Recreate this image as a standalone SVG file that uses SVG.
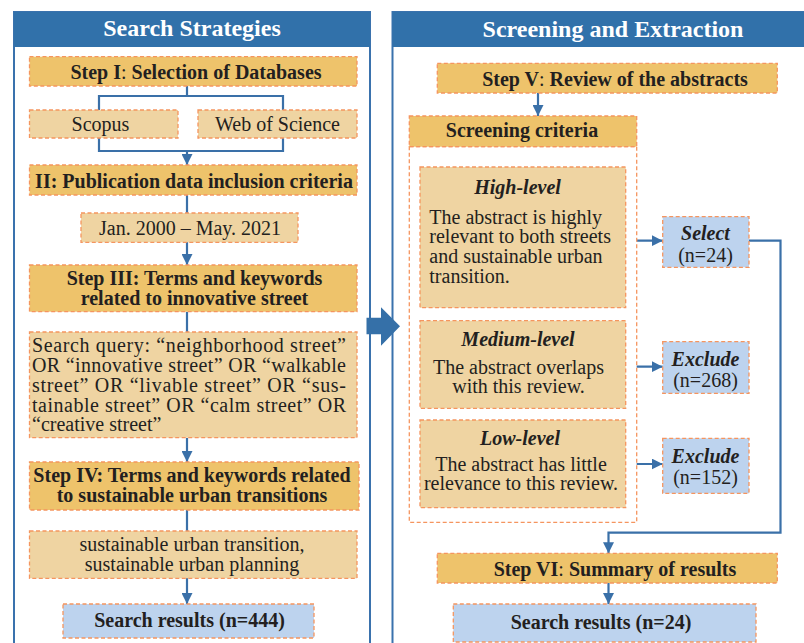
<svg xmlns="http://www.w3.org/2000/svg" width="804" height="643" viewBox="0 0 804 643" font-family="'Liberation Serif', Tinos, 'Times New Roman', 'DejaVu Serif', serif">
<style>
.panel{fill:#ffffff;stroke:#3A72AD;stroke-width:2}
.hdr{fill:#3171AA}
.title{font-size:24px;font-weight:bold;fill:#ffffff;text-anchor:middle}
.gold{fill:#EEC36B;stroke:#F5955F;stroke-width:1.3;stroke-dasharray:4 2.5}
.tan{fill:#EFD4A2;stroke:#F5955F;stroke-width:1.3;stroke-dasharray:4 2.5}
.blue{fill:#BDD3EE;stroke:#F5955F;stroke-width:1.3;stroke-dasharray:4 2.5}
.cont{fill:#ffffff;stroke:#F5955F;stroke-width:1.3;stroke-dasharray:4 2.5}
.t{font-size:20px;fill:#231F20}
.b{font-weight:bold}
.bi{font-weight:bold;font-style:italic}
.n{font-weight:normal}
.c{text-anchor:middle}
.ln{fill:none;stroke:#3A70A8;stroke-width:2.2}
</style>
<defs>
<marker id="ah" viewBox="0 0 10 10" refX="10" refY="5" markerWidth="5" markerHeight="5" orient="auto" markerUnits="strokeWidth">
<path d="M0,0 L10,5 L0,10 z" fill="#3A70A8"/>
</marker>
</defs>

<g id="panel-left">
<rect class="panel" x="14" y="12" width="356" height="660"/>
<rect class="hdr" x="14" y="12" width="356" height="35"/>
<text class="title" x="192" y="36">Search Strategies</text>
</g>
<g id="panel-right">
<rect class="panel" x="392.5" y="12" width="430" height="660"/>
<rect class="hdr" x="392.5" y="12" width="430" height="35"/>
<text class="title" x="613" y="37">Screening and Extraction</text>
</g>

<g id="connectors">
<path class="ln" d="M187,86 V96 M99,110 V96 H283 V110"/>
<path class="ln" d="M99,138 V151 H283 V138 M187,151 V165" marker-end="url(#ah)"/>
<path class="ln" d="M187,195 V213"/>
<path class="ln" d="M187,242 V265" marker-end="url(#ah)"/>
<path class="ln" d="M187,312 V332"/>
<path class="ln" d="M187,438 V462" marker-end="url(#ah)"/>
<path class="ln" d="M187,510 V531"/>
<path class="ln" d="M187,578 V604" marker-end="url(#ah)"/>
<path class="ln" d="M538,93 V116" marker-end="url(#ah)"/>
<path class="ln" d="M626,240.7 H662.7" marker-end="url(#ah)"/>
<path class="ln" d="M626,366.7 H662.7" marker-end="url(#ah)"/>
<path class="ln" d="M626,464 H662.7" marker-end="url(#ah)"/>
<path class="ln" d="M749,240.7 H780.5 V532.7 H608.5 V553.3" marker-end="url(#ah)"/>
<path class="ln" d="M608.5,583 V604" marker-end="url(#ah)"/>
<path d="M366.5,317.7 H381 V307.3 L400,326.3 L381,345.7 V334.3 H366.5 Z" fill="#3570A8"/>
</g>

<g id="step1">
<rect class="gold" x="29.5" y="56.7" width="327.5" height="29.3"/>
<text class="t b c" x="196" y="79">Step I<tspan class="n">:</tspan> Selection of Databases</text>
</g>
<g id="scopus">
<rect class="tan" x="29.5" y="110" width="148.5" height="28"/>
<text class="t c" x="100.5" y="131">Scopus</text>
</g>
<g id="wos">
<rect class="tan" x="198" y="110" width="159" height="28"/>
<text class="t c" x="277.5" y="131">Web of Science</text>
</g>
<g id="step2">
<rect class="gold" x="29.5" y="165" width="327.5" height="30"/>
<text class="t b c" x="194" y="188">II: Publication data inclusion criteria</text>
</g>
<g id="dates">
<rect class="tan" x="81" y="213" width="217" height="29.3"/>
<text class="t c" x="190" y="235">Jan. 2000 – May. 2021</text>
</g>
<g id="step3">
<rect class="gold" x="29.5" y="265" width="327.5" height="46.7"/>
<text class="t b c" x="194.5" y="285">Step III: Terms and keywords</text>
<text class="t b c" x="194.5" y="305">related to innovative street</text>
</g>
<g id="query">
<rect class="tan" x="29.5" y="332" width="327.5" height="105.7"/>
<text class="t" x="32" y="352" textLength="314" lengthAdjust="spacing">Search query: “neighborhood street”</text>
<text class="t" x="32" y="372" textLength="314" lengthAdjust="spacing">OR “innovative street” OR “walkable</text>
<text class="t" x="32" y="391.5" textLength="314" lengthAdjust="spacing">street” OR “livable street” OR “sus-</text>
<text class="t" x="32" y="411.5" textLength="314" lengthAdjust="spacing">tainable street” OR “calm street” OR</text>
<text class="t" x="32" y="431">“creative street”</text>
</g>
<g id="step4">
<rect class="gold" x="29.5" y="462" width="329.5" height="48"/>
<text class="t b c" x="192" y="482">Step IV: Terms and keywords related</text>
<text class="t b c" x="192" y="501.5">to sustainable urban transitions</text>
</g>
<g id="urban">
<rect class="tan" x="29.5" y="531" width="327.5" height="47.3"/>
<text class="t c" x="192" y="551">sustainable urban transition,</text>
<text class="t c" x="192" y="570.5">sustainable urban planning</text>
</g>
<g id="results-left">
<rect class="blue" x="63" y="604" width="251" height="34"/>
<text class="t b c" x="189.5" y="627">Search results (n=444)</text>
</g>

<g id="step5">
<rect class="gold" x="437.3" y="63.3" width="340" height="29.7"/>
<text class="t b c" x="615" y="86">Step V<tspan class="n">:</tspan> Review of the abstracts</text>
</g>
<g id="criteria">
<rect class="cont" x="409.3" y="146.7" width="227.4" height="375.6"/>
<rect class="gold" x="409.3" y="116" width="227.4" height="30.7"/>
<text class="t b c" x="522" y="137">Screening criteria</text>
</g>
<g id="high">
<rect class="tan" x="420" y="167" width="205.7" height="140.7"/>
<text class="t bi c" x="517.5" y="193.5">High-level</text>
<text class="t" x="429.3" y="223.5">The abstract is highly</text>
<text class="t" x="429.3" y="243">relevant to both streets</text>
<text class="t" x="429.3" y="263">and sustainable urban</text>
<text class="t" x="429.3" y="282.5">transition.</text>
</g>
<g id="medium">
<rect class="tan" x="420" y="320.7" width="205.7" height="87.6"/>
<text class="t bi c" x="518" y="345.5">Medium-level</text>
<text class="t c" x="518.5" y="373.5">The abstract overlaps</text>
<text class="t c" x="518.5" y="393">with this review.</text>
</g>
<g id="low">
<rect class="tan" x="420" y="420" width="205.7" height="87.7"/>
<text class="t bi c" x="520" y="445">Low-level</text>
<text class="t c" x="521" y="470.5">The abstract has little</text>
<text class="t c" x="521" y="490">relevance to this review.</text>
</g>
<g id="select">
<rect class="blue" x="662.7" y="216.7" width="86.3" height="50.6"/>
<text class="t bi c" x="705.5" y="240">Select</text>
<text class="t c" x="705.5" y="261.5">(n=24)</text>
</g>
<g id="exclude-medium">
<rect class="blue" x="662.7" y="341.7" width="86.3" height="51.6"/>
<text class="t bi c" x="705.5" y="365.5">Exclude</text>
<text class="t c" x="705.5" y="386.5">(n=268)</text>
</g>
<g id="exclude-low">
<rect class="blue" x="662.7" y="438.3" width="86.3" height="55"/>
<text class="t bi c" x="705.5" y="463">Exclude</text>
<text class="t c" x="705.5" y="484">(n=152)</text>
</g>
<g id="step6">
<rect class="gold" x="437.3" y="553.3" width="340" height="29.7"/>
<text class="t b c" x="615" y="576">Step VI<tspan class="n">:</tspan> Summary of results</text>
</g>
<g id="results-right">
<rect class="blue" x="453.3" y="604" width="302.7" height="38"/>
<text class="t b c" x="601" y="628.5">Search results (n=24)</text>
</g>
</svg>
